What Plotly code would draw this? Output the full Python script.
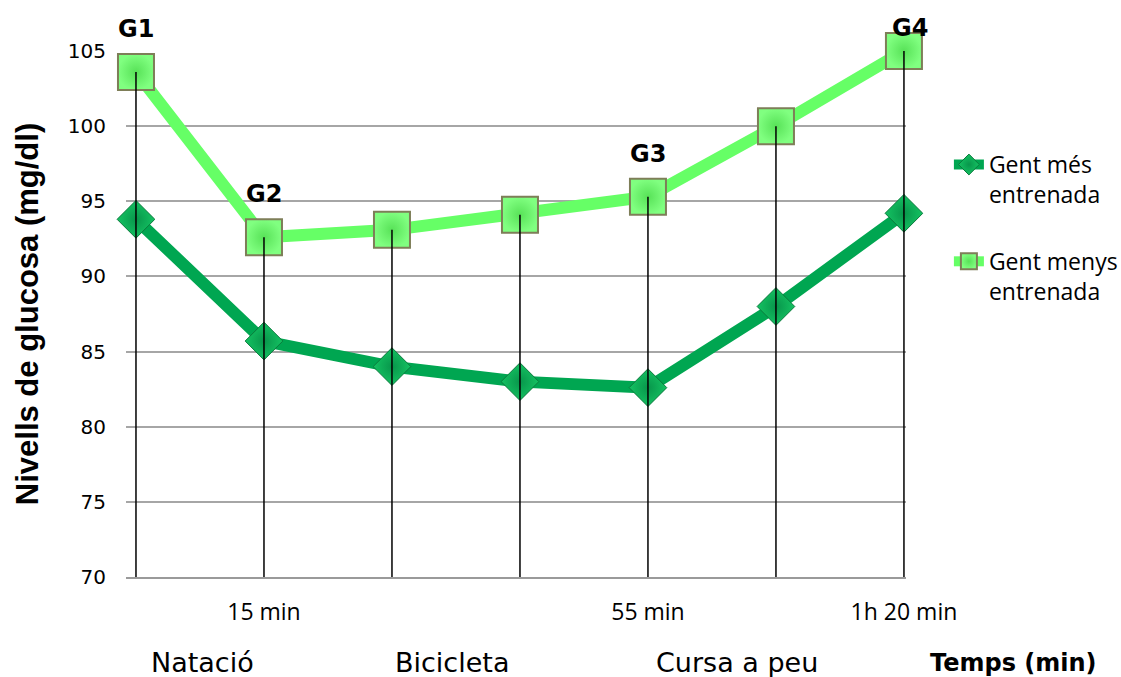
import plotly.graph_objects as go

# Measurement points along the exercise session
points = [0, 1, 2, 3, 4, 5, 6]
tick_pos = [1, 4, 6]
tick_text = ["15 min", "55 min", "1h 20 min"]

# Blood glucose (mg/dl)
mes_entrenada = [93.8, 85.7, 84.0, 83.0, 82.6, 88.0, 94.2]
menys_entrenada = [103.6, 92.6, 93.1, 94.1, 95.3, 100.0, 105.0]

# Group labels attached to points of the less trained series
group_labels = ["G1", "G2", "G3", "G4"]
group_points = [0, 1, 4, 6]

# Activity names shown under the axis
activities = ["Natació", "Bicicleta", "Cursa a peu"]

Y_MIN, Y_MAX = 70, 105

DARK = "#00A651"
LIGHT = "#66FF66"

fig = go.Figure()

fig.add_trace(go.Scatter(
    x=points, y=mes_entrenada, mode="lines+markers",
    name="Gent més<br>entrenada", legendgroup="a",
    line=dict(color=DARK, width=12),
    marker=dict(symbol="diamond", size=29, color="#14C262",
                gradient=dict(type="radial", color="#08964B"),
                line=dict(color="#0A7A3C", width=1)),
    cliponaxis=False,
))

fig.add_trace(go.Scatter(
    x=points, y=menys_entrenada, mode="lines+markers",
    name="Gent menys<br>entrenada", legendgroup="b",
    line=dict(color=LIGHT, width=12),
    marker=dict(symbol="square", size=36, color="#80FF80",
                gradient=dict(type="radial", color="#58E258"),
                line=dict(color="#7E7E58", width=2)),
    cliponaxis=False,
))

# Drop lines from the highest value at each point down to the axis
drop_x, drop_y = [], []
for i, p in enumerate(points):
    drop_x += [p, p, None]
    drop_y += [max(mes_entrenada[i], menys_entrenada[i]), Y_MIN, None]
fig.add_trace(go.Scatter(
    x=drop_x, y=drop_y, mode="lines", showlegend=False,
    line=dict(color="black", width=1.5), hoverinfo="skip",
))

annotations = []
for lab, idx in zip(group_labels, group_points):
    last = idx == points[-1]
    annotations.append(dict(
        x=idx, y=menys_entrenada[idx], xref="x", yref="y",
        text="<b>" + lab + "</b>", showarrow=False,
        xshift=6 if last else 0, yshift=23 if last else 43,
        font=dict(family="DejaVu Sans", size=24, color="black"),
    ))

# Activity names under the time axis, plus the axis caption
label_px = [202, 452, 737]
for name, px in zip(activities, label_px):
    annotations.append(dict(
        x=(px - 126) / 780, y=-0.163, xref="paper", yref="paper",
        text=name, showarrow=False, xanchor="center", yanchor="middle",
        font=dict(family="DejaVu Sans", size=27, color="black"),
    ))
annotations.append(dict(
    x=(1013 - 126) / 780, y=-0.163, xref="paper", yref="paper",
    text="<b>Temps (min)</b>", showarrow=False, xanchor="center", yanchor="middle",
    font=dict(family="DejaVu Sans", size=24, color="black"),
))

fig.update_layout(
    width=1121, height=677,
    margin=dict(l=126, r=215, t=51, b=100, autoexpand=False),
    paper_bgcolor="white", plot_bgcolor="white",
    showlegend=True,
    legend=dict(
        x=1.055, y=0.825, xanchor="left", yanchor="top",
        font=dict(family="Open Sans", size=23, color="black"),
        tracegroupgap=34, valign="top", bgcolor="rgba(0,0,0,0)",
    ),
    annotations=annotations,
    xaxis=dict(
        range=[-0.078, 6.016], tickvals=tick_pos, ticktext=tick_text,
        showgrid=False, zeroline=False, showline=True,
        linecolor="#9A9A9A", linewidth=1.5, ticks="",
        tickfont=dict(family="Open Sans", size=23, color="black"),
        ticklabelstandoff=14, automargin=False,
    ),
    yaxis=dict(
        range=[Y_MIN, Y_MAX], tick0=70, dtick=5,
        showgrid=True, gridcolor="#A6A6A6", gridwidth=1.5,
        zeroline=False, showline=False,
        ticks="outside", ticklen=15, tickcolor="rgba(0,0,0,0)",
        tickfont=dict(family="DejaVu Sans", size=20, color="black"),
        automargin=False,
        title=dict(text="<b>Nivells de glucosa (mg/dl)</b>", standoff=19,
                   font=dict(family="Liberation Sans", size=31, color="black")),
    ),
)

fig.write_html("out.html")
